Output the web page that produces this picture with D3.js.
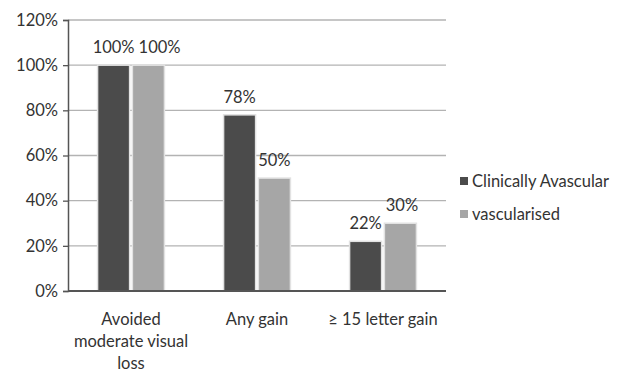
<!DOCTYPE html>
<html>
<head>
<meta charset="utf-8">
<script src="https://cdnjs.cloudflare.com/ajax/libs/d3/7.8.5/d3.min.js"></script>
<style>
  html, body { margin: 0; padding: 0; background: #fff; }
  svg { display: block; }
  text { font-family: Lato, "Open Sans", sans-serif; fill: #333; }
</style>
</head>
<body>
<svg id="chart" width="625" height="372"></svg>
<script>
// Outcome categories (each label split into display lines)
const categories = ["Avoided moderate visual loss", "Any gain", "\u2265 15 letter gain"];
const categoryLines = [["Avoided", "moderate visual", "loss"], ["Any gain"], ["\u2265 15 letter gain"]];
const seriesNames = ["Clinically Avascular", "vascularised"];
const avascular = [100, 78, 22];
const vascularised = [100, 50, 30];
const yTicks = [0, 20, 40, 60, 80, 100, 120];
const colors = ["#4b4b4b", "#a6a6a6"];

const FS = "16.5px";
const svg = d3.select("#chart");
const margin = { left: 68, top: 20, right: 179, bottom: 81 };
const W = 625, H = 372;

const x = d3.scaleBand().domain(categories).range([margin.left, W - margin.right]).paddingInner(0).paddingOuter(0);
const xs = d3.scaleBand().domain(seriesNames).range([0, x.bandwidth()]).paddingInner(0.08).paddingOuter(0.85);
const y = d3.scaleLinear().domain([0, 120]).range([H - margin.bottom, margin.top]);

// Gridlines
svg.append("g").selectAll("line").data(yTicks.filter(d => d > 0)).join("line")
  .attr("x1", margin.left).attr("x2", W - margin.right)
  .attr("y1", d => y(d)).attr("y2", d => y(d))
  .attr("stroke", "#b3b3b3").attr("stroke-width", 1.3);

// Y axis
const yAxis = d3.axisLeft(y).tickValues(yTicks).tickFormat(d => d + "%").tickSize(5).tickPadding(5);
const ga = svg.append("g").attr("transform", `translate(${margin.left},0)`).call(yAxis);
ga.select(".domain").attr("stroke", "#555").attr("stroke-width", 1.5);
ga.selectAll(".tick line").attr("stroke", "#555").attr("stroke-width", 1.3);
ga.selectAll(".tick text").style("font-size", FS).style("font-family", "Lato, 'Open Sans', sans-serif").attr("fill", "#333");

// Bars and value labels
const series = [avascular, vascularised];
const labelSel = [];
series.forEach((vals, si) => {
  const g = svg.append("g");
  g.selectAll("rect").data(categories).join("rect")
    .attr("x", d => x(d) + xs(seriesNames[si]))
    .attr("y", (d, i) => y(vals[i]))
    .attr("width", xs.bandwidth())
    .attr("height", (d, i) => y(0) - y(vals[i]))
    .attr("fill", colors[si])
    .attr("stroke", "#e2e2e2").attr("stroke-width", 1.5);
  labelSel.push(g.selectAll("text").data(categories).join("text")
    .attr("x", d => x(d) + xs(seriesNames[si]) + xs.bandwidth() / 2)
    .attr("y", (d, i) => y(vals[i]) - 12)
    .attr("text-anchor", "middle")
    .style("font-size", FS)
    .text((d, i) => vals[i] + "%"));
});

// Nudge the second label right where two labels at the same height would collide
categories.forEach((c, i) => {
  const a = labelSel[0].nodes()[i], b = labelSel[1].nodes()[i];
  const ba = a.getBBox(), bb = b.getBBox();
  const vOverlap = ba.y < bb.y + bb.height && bb.y < ba.y + ba.height;
  const gap = bb.x - (ba.x + ba.width);
  if (vOverlap && gap < 4) {
    d3.select(b).attr("x", +d3.select(b).attr("x") + (4 - gap));
  }
});

// X axis baseline
svg.append("line")
  .attr("x1", margin.left).attr("x2", W - margin.right)
  .attr("y1", y(0)).attr("y2", y(0))
  .attr("stroke", "#555").attr("stroke-width", 1.8);

// Category labels
categories.forEach((c, i) => {
  const cx = x(c) + x.bandwidth() / 2;
  const t = svg.append("text")
    .attr("x", cx)
    .attr("y", y(0) + 34)
    .attr("text-anchor", "middle")
    .style("font-size", FS);
  categoryLines[i].forEach((ln, j) => {
    t.append("tspan").attr("x", cx).attr("dy", j === 0 ? 0 : 22).text(ln);
  });
});

// Legend
const lg = svg.append("g").attr("transform", "translate(460,177)");
seriesNames.forEach((s, i) => {
  lg.append("rect").attr("x", 0).attr("y", i * 33).attr("width", 8).attr("height", 8).attr("fill", colors[i]);
  lg.append("text").attr("x", 12).attr("y", i * 33 + 10).style("font-size", FS).text(s);
});
</script>
</body>
</html>
